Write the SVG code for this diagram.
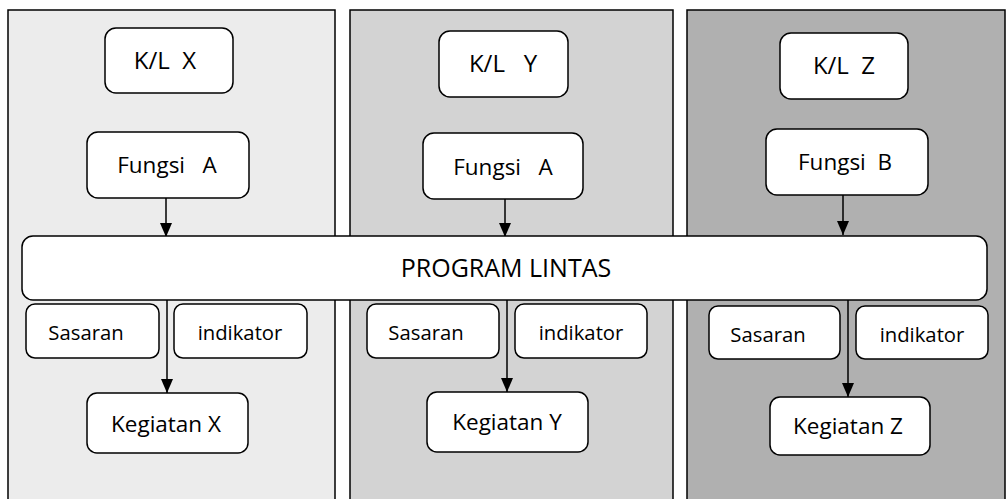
<svg xmlns="http://www.w3.org/2000/svg" width="1007" height="499" viewBox="0 0 1007 499">
<defs>
<style>
.panel{stroke:#000;stroke-width:1.5}
.box{fill:#fff;stroke:#000;stroke-width:1.5}
.t{font-family:"Open Sans","Liberation Sans",sans-serif;fill:#000;text-anchor:middle;white-space:pre}
.big{font-size:22.5px}
.kl{font-size:24px}
.sm{font-size:20.3px}
.conn{stroke:#000;stroke-width:1.5;fill:none}
</style>
</defs>
<rect width="1007" height="499" fill="#fff"/>
<g id="panels">
<rect class="panel" x="8" y="10" width="327" height="495" fill="#ececec"/>
<rect class="panel" x="350" y="10" width="323" height="495" fill="#d3d3d3"/>
<rect class="panel" x="687" y="10" width="318" height="495" fill="#b0b0b0"/>
</g>
<g id="connectors">
<line class="conn" x1="166" y1="198" x2="166" y2="237"/>
<path d="M160,223 L172,223 L166,237 Z"/>
<line class="conn" x1="505" y1="199" x2="505" y2="237"/>
<path d="M499,223 L511,223 L505,237 Z"/>
<line class="conn" x1="843" y1="195" x2="843" y2="235"/>
<path d="M837,221 L849,221 L843,235 Z"/>
<line class="conn" x1="167" y1="300" x2="167" y2="393"/>
<path d="M161,379 L173,379 L167,393 Z"/>
<line class="conn" x1="507" y1="300" x2="507" y2="392"/>
<path d="M501,378 L513,378 L507,392 Z"/>
<line class="conn" x1="848" y1="300" x2="848" y2="397"/>
<path d="M842,383 L854,383 L848,397 Z"/>
</g>
<g id="kl-x"><rect class="box" x="105" y="28" width="128" height="65" rx="11"/><text class="t kl" x="165" y="69">K/L  X</text></g>
<g id="fungsi-a-1"><rect class="box" x="87" y="132" width="162" height="66" rx="11"/><text class="t big" x="167" y="173">Fungsi   A</text></g>
<g id="kl-y"><rect class="box" x="439" y="31" width="129" height="66" rx="11"/><text class="t kl" x="503" y="72">K/L   Y</text></g>
<g id="fungsi-a-2"><rect class="box" x="423" y="133" width="160" height="66" rx="11"/><text class="t big" x="503" y="175">Fungsi   A</text></g>
<g id="kl-z"><rect class="box" x="780" y="33" width="128" height="66" rx="11"/><text class="t kl" x="844" y="74">K/L  Z</text></g>
<g id="fungsi-b"><rect class="box" x="766" y="129" width="162" height="66" rx="11"/><text class="t big" x="845" y="170">Fungsi  B</text></g>
<g id="program-lintas"><rect class="box" x="22" y="236" width="965" height="64" rx="11"/><text class="t" style="font-size:25px" x="506" y="277">PROGRAM LINTAS</text></g>
<g id="sasaran-x"><rect class="box" x="26" y="304" width="133" height="54" rx="9"/><text class="t sm" x="86" y="340">Sasaran</text></g>
<g id="indikator-x"><rect class="box" x="174" y="304" width="133" height="54" rx="9"/><text class="t sm" x="240" y="340">indikator</text></g>
<g id="kegiatan-x"><rect class="box" x="87" y="393" width="161" height="60" rx="10"/><text class="t big" x="166" y="432">Kegiatan X</text></g>
<g id="sasaran-y"><rect class="box" x="367" y="304" width="132" height="54" rx="9"/><text class="t sm" x="426" y="340">Sasaran</text></g>
<g id="indikator-y"><rect class="box" x="515" y="304" width="132" height="54" rx="9"/><text class="t sm" x="581" y="340">indikator</text></g>
<g id="kegiatan-y"><rect class="box" x="427" y="392" width="161" height="60" rx="10"/><text class="t big" x="507" y="430">Kegiatan Y</text></g>
<g id="sasaran-z"><rect class="box" x="709" y="306" width="131" height="53" rx="9"/><text class="t sm" x="768" y="342">Sasaran</text></g>
<g id="indikator-z"><rect class="box" x="856" y="306" width="132" height="53" rx="9"/><text class="t sm" x="922" y="342">indikator</text></g>
<g id="kegiatan-z"><rect class="box" x="770" y="397" width="160" height="58" rx="10"/><text class="t big" x="848" y="434">Kegiatan Z</text></g>
</svg>
